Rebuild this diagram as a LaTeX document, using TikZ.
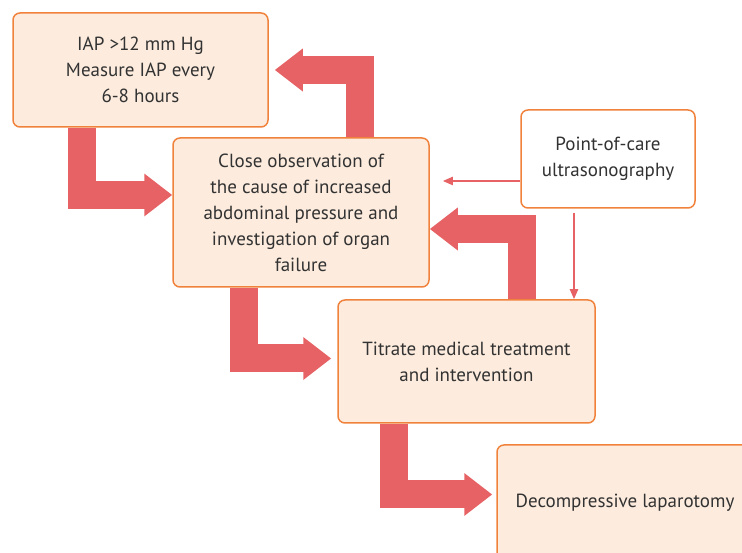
\documentclass[tikz,border=0pt]{standalone}
\usepackage{fontspec}
\setmainfont{PT Sans}
\usetikzlibrary{arrows.meta}
\definecolor{boxfill}{RGB}{253,236,222}
\definecolor{boxline}{RGB}{240,130,60}
\definecolor{arrowred}{RGB}{230,98,100}
\definecolor{txt}{RGB}{50,50,50}
\tikzset{
  stage/.style={draw=boxline,fill=boxfill,line width=1.5pt,rounded corners=7pt,align=center,
    text=txt,font=\fontsize{19}{26}\selectfont,inner sep=0pt},
  bigarrow/.style={draw=arrowred,line width=28pt,line join=miter,-{Triangle[length=28pt,width=41pt]}},
  thinarrow/.style={draw=arrowred,line width=2pt,-{Triangle[length=10pt,width=8pt]}}
}
\begin{document}
\begin{tikzpicture}[x=1pt,y=1pt]
\clip(0,0)rectangle(742,553);
\node[stage,minimum width=255pt,minimum height=114pt](iap)at(140.5,483){IAP >12 mm Hg\\Measure IAP every\\6-8 hours};
\node[stage,minimum width=256pt,minimum height=149pt](obs)at(301,340.5){Close observation of\\the cause of increased\\abdominal pressure and\\investigation of organ\\failure};
\node[stage,fill=white,minimum width=174pt,minimum height=98pt](pocus)at(608,394){Point-of-care\\ultrasonography};
\node[stage,minimum width=257pt,minimum height=123pt](titrate)at(466.5,191.5){Titrate medical treatment\\and intervention};
\node[stage,minimum width=256pt,minimum height=115pt](lap)at(625,50.5){Decompressive laparotomy};
% block arrows
\draw[bigarrow]([xshift=70pt]iap.south west)|-([yshift=17.5pt]obs.west);
\draw[bigarrow,shorten >=6pt]([xshift=188pt]obs.north west)|-(iap.east);
\draw[bigarrow]([xshift=185pt]titrate.north west)|-([yshift=-16.5pt]obs.east);
\draw[bigarrow,shorten >=6pt]([xshift=72pt]obs.south west)|-([yshift=3pt]titrate.west);
\draw[bigarrow,shorten >=4pt]([xshift=57pt]titrate.south west)|-([yshift=8pt]lap.west);
% ultrasound arrows
\draw[thinarrow,shorten >=13pt]([yshift=-22pt]pocus.west)--([yshift=-22pt]pocus.west-|obs.east);
\draw[thinarrow,shorten <=4pt]([xshift=-34pt]pocus.south)--([xshift=-34pt]pocus.south|-titrate.north);
\end{tikzpicture}
\end{document}
